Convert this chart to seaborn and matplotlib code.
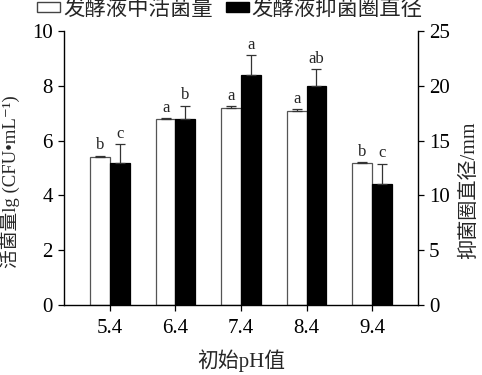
"""
Viable count and inhibition zone diameter of the fermentation broth at different initial pH.
"""

import numpy as np
import matplotlib.pyplot as plt
import pandas as pd
import seaborn as sns
from matplotlib.patches import Patch

# data
ph_labels = ['5.4', '6.4', '7.4', '8.4', '9.4']
viable_count = [5.4, 6.8, 7.2, 7.1, 5.2]          # lg(CFU/mL), left axis
viable_err = [0.05, 0.03, 0.05, 0.05, 0.03]
zone_diameter = [13.0, 17.0, 21.0, 20.0, 11.0]   # mm, right axis
zone_err = [1.7, 1.2, 1.8, 1.5, 1.9]
viable_letters = ['b', 'a', 'a', 'a', 'b']
zone_letters = ['c', 'b', 'a', 'ab', 'c']

SERIES = ['发酵液中活菌量', '发酵液抑菌圈直径']
FONT = ['Liberation Serif', 'Noto Sans CJK SC', 'DejaVu Serif']

sns.set_style('ticks')
plt.rcParams['font.family'] = FONT
plt.rcParams['font.size'] = 15

n = len(ph_labels)
df = pd.DataFrame({
    'ph': ph_labels * 2,
    'series': [SERIES[0]] * n + [SERIES[1]] * n,
    'left': viable_count + [np.nan] * n,
    'right': [np.nan] * n + zone_diameter,
})
palette = {SERIES[0]: 'white', SERIES[1]: 'black'}

fig = plt.figure(figsize=(4.82, 3.75), dpi=100)
ax = fig.add_axes([0.133, 0.187, 0.734, 0.730])
ax2 = ax.twinx()

sns.barplot(data=df, x='ph', y='left', hue='series', hue_order=SERIES,
            order=ph_labels, palette=palette, width=0.6, gap=0,
            edgecolor='#555555', linewidth=0.9, legend=False, ax=ax)
sns.barplot(data=df, x='ph', y='right', hue='series', hue_order=SERIES,
            order=ph_labels, palette=palette, width=0.6, gap=0,
            edgecolor='black', linewidth=0.9, legend=False, ax=ax2)


def annotate(axis, errs, letters, pad):
    bars = [p for p in axis.patches if p.get_height() > 0]
    bars.sort(key=lambda p: p.get_x())
    for bar, err, letter in zip(bars, errs, letters):
        cx = bar.get_x() + bar.get_width() / 2
        h = bar.get_height()
        axis.errorbar(cx, h, yerr=[[0], [err]], fmt='none', ecolor='#333333',
                      elinewidth=0.9, capsize=3.5, capthick=0.9)
        axis.text(cx, h + err + pad, letter, ha='center', va='bottom', fontsize=12)


annotate(ax, viable_err, viable_letters, 0.08)
annotate(ax2, zone_err, zone_letters, 0.2)

ax.set_xlim(-0.7, 4.7)
ax.set_ylim(0, 10)
ax2.set_ylim(0, 25)
ax.set_yticks(range(0, 11, 2))
ax2.set_yticks(range(0, 26, 5))

ax.set_xlabel('初始pH值', fontsize=15, labelpad=8)
ax.set_ylabel('活菌量lg (CFU•mL⁻¹)', fontsize=13.5)
ax2.set_ylabel('抑菌圈直径/mm', fontsize=14.5)
ax.yaxis.set_label_coords(-0.125, 0.45)
ax2.yaxis.set_label_coords(1.12, 0.42)

for a in (ax, ax2):
    a.spines['top'].set_visible(False)
    for s in a.spines.values():
        s.set_linewidth(1.0)
        s.set_color('black')
    a.tick_params(direction='out', length=4, width=0.9, labelsize=15, colors='black', pad=4)
ax.tick_params(axis='x', pad=6)
ax2.spines['left'].set_visible(False)
ax2.spines['bottom'].set_visible(False)
ax.spines['right'].set_visible(False)

handles = [Patch(facecolor='white', edgecolor='#444444', label=SERIES[0]),
           Patch(facecolor='black', edgecolor='black', label=SERIES[1])]
fig.legend(handles=handles, loc='upper left', bbox_to_anchor=(0.077, 1.0), ncol=2,
           frameon=False, fontsize=15.4, handlelength=1.07, handleheight=0.35,
           handletextpad=0.15, columnspacing=0.6, borderpad=0, borderaxespad=0)

fig.savefig('out.png', dpi=100)
plt.close(fig)
